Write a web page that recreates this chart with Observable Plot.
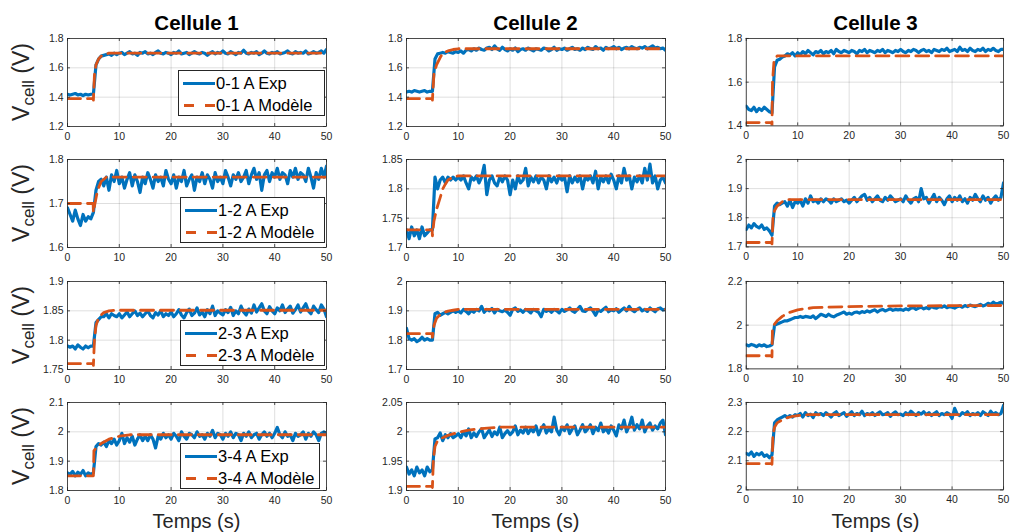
<!DOCTYPE html>
<html><head><meta charset="utf-8">
<script src="https://cdn.jsdelivr.net/npm/d3@7"></script>
<script src="https://cdn.jsdelivr.net/npm/@observablehq/plot@0.6"></script>
<style>
body{margin:0;background:#fff;}
#root{position:relative;width:1011px;height:532px;overflow:hidden;background:#fff;font-family:"Liberation Sans",Arial,Helvetica,sans-serif;}
.panel{position:absolute;}
.panel svg{overflow:visible;}
.legend{position:absolute;background:#fff;border:1px solid #262626;box-sizing:border-box;color:#000;font-size:16.5px;}
.legend .row{position:absolute;left:0;right:0;height:20px;}
.legend .row svg{position:absolute;left:3px;top:0;}
.legend .row span{position:absolute;left:37px;top:0;line-height:20px;white-space:nowrap;}
#overlay{position:absolute;left:0;top:0;pointer-events:none;}
</style></head><body><div id="root"></div>
<script>
// ---------- data ----------
const cellTitles = ["Cellule 1", "Cellule 2", "Cellule 3"];
const currents = ["0-1 A", "1-2 A", "2-3 A", "3-4 A"];
const xTicks = [0, 10, 20, 30, 40, 50];
const xLabel = "Temps (s)";

const yDomains = [
  [[1.2, 1.8], [1.2, 1.8], [1.4, 1.8]],
  [[1.6, 1.8], [1.7, 1.85], [1.7, 2.0]],
  [[1.75, 1.9], [1.7, 2.0], [1.8, 2.2]],
  [[1.8, 2.1], [1.9, 2.05], [2.0, 2.3]]
];
const yTicks = [
  [[1.2, 1.4, 1.6, 1.8], [1.2, 1.4, 1.6, 1.8], [1.4, 1.6, 1.8]],
  [[1.6, 1.7, 1.8], [1.7, 1.75, 1.8, 1.85], [1.7, 1.8, 1.9, 2]],
  [[1.75, 1.8, 1.85, 1.9], [1.7, 1.8, 1.9, 2], [1.8, 2, 2.2]],
  [[1.8, 1.9, 2, 2.1], [1.9, 1.95, 2, 2.05], [2, 2.1, 2.2, 2.3]]
];

const tExp = [0,0.5,1,1.5,2,2.5,3,3.5,4,4.5,5,5.5,6,6.5,7,7.5,8,8.5,9,9.5,10,10.5,11,11.5,12,12.5,13,13.5,14,14.5,15,15.5,16,16.5,17,17.5,18,18.5,19,19.5,20,20.5,21,21.5,22,22.5,23,23.5,24,24.5,25,25.5,26,26.5,27,27.5,28,28.5,29,29.5,30,30.5,31,31.5,32,32.5,33,33.5,34,34.5,35,35.5,36,36.5,37,37.5,38,38.5,39,39.5,40,40.5,41,41.5,42,42.5,43,43.5,44,44.5,45,45.5,46,46.5,47,47.5,48,48.5,49,49.5,50];

const exp11 = [1.42,1.415,1.42,1.425,1.415,1.42,1.41,1.42,1.415,1.42,
 1.42,1.62,1.66,1.68,1.685,1.69,1.695,1.685,1.70,1.69,
 1.70,1.705,1.69,1.70,1.71,1.695,1.70,1.685,1.705,1.70,
 1.71,1.695,1.70,1.69,1.705,1.715,1.70,1.695,1.705,1.70,
 1.69,1.705,1.70,1.715,1.695,1.70,1.705,1.69,1.70,1.71,
 1.70,1.695,1.705,1.70,1.685,1.70,1.71,1.695,1.705,1.70,
 1.715,1.70,1.695,1.71,1.70,1.69,1.705,1.70,1.72,1.70,
 1.695,1.705,1.70,1.71,1.69,1.70,1.715,1.70,1.695,1.705,
 1.70,1.71,1.695,1.70,1.705,1.715,1.70,1.695,1.71,1.70,
 1.705,1.70,1.715,1.695,1.70,1.71,1.70,1.705,1.715,1.70,
 1.725];
const exp12 = [1.435,1.44,1.435,1.445,1.44,1.435,1.44,1.445,1.435,1.44,
 1.44,1.66,1.695,1.70,1.705,1.70,1.71,1.705,1.70,1.71,
 1.705,1.715,1.70,1.72,1.725,1.715,1.73,1.72,1.735,1.725,
 1.72,1.735,1.74,1.725,1.75,1.73,1.72,1.74,1.725,1.715,
 1.73,1.72,1.735,1.71,1.725,1.73,1.72,1.735,1.725,1.715,
 1.73,1.725,1.72,1.735,1.73,1.715,1.725,1.74,1.72,1.73,
 1.725,1.735,1.72,1.73,1.74,1.725,1.73,1.72,1.735,1.725,
 1.74,1.73,1.725,1.745,1.73,1.735,1.72,1.74,1.73,1.735,
 1.745,1.73,1.74,1.725,1.735,1.74,1.73,1.745,1.735,1.73,
 1.74,1.735,1.745,1.73,1.74,1.75,1.735,1.74,1.73,1.735,
 1.72];
const exp13 = [1.49,1.475,1.47,1.485,1.465,1.48,1.47,1.485,1.475,1.465,
 1.46,1.67,1.70,1.705,1.715,1.72,1.73,1.725,1.735,1.72,
 1.735,1.725,1.74,1.73,1.745,1.735,1.725,1.74,1.735,1.745,
 1.73,1.74,1.735,1.745,1.73,1.75,1.74,1.735,1.745,1.74,
 1.735,1.745,1.74,1.73,1.745,1.74,1.75,1.735,1.745,1.74,
 1.735,1.745,1.74,1.75,1.735,1.745,1.74,1.735,1.745,1.74,
 1.75,1.74,1.735,1.745,1.74,1.75,1.745,1.735,1.745,1.75,
 1.74,1.745,1.735,1.75,1.745,1.74,1.75,1.745,1.755,1.74,
 1.745,1.75,1.74,1.76,1.745,1.75,1.74,1.755,1.745,1.74,
 1.75,1.745,1.755,1.74,1.75,1.745,1.755,1.745,1.74,1.75,
 1.75];
const exp21 = [1.69,1.675,1.66,1.685,1.665,1.65,1.675,1.66,1.67,1.665,
 1.68,1.73,1.75,1.755,1.74,1.76,1.73,1.765,1.75,1.775,
 1.745,1.76,1.735,1.755,1.77,1.74,1.765,1.75,1.725,1.76,
 1.745,1.77,1.755,1.735,1.765,1.75,1.76,1.74,1.775,1.755,
 1.745,1.765,1.735,1.76,1.75,1.775,1.74,1.755,1.765,1.73,
 1.76,1.75,1.77,1.745,1.765,1.755,1.735,1.77,1.75,1.76,
 1.745,1.775,1.76,1.74,1.765,1.755,1.77,1.75,1.76,1.775,
 1.745,1.765,1.78,1.755,1.77,1.73,1.765,1.775,1.75,1.77,
 1.76,1.78,1.755,1.77,1.765,1.745,1.775,1.76,1.78,1.755,
 1.77,1.765,1.75,1.78,1.76,1.735,1.77,1.755,1.78,1.76,
 1.785];
const exp22 = [1.73,1.715,1.735,1.72,1.73,1.715,1.735,1.72,1.725,1.73,
 1.73,1.82,1.80,1.815,1.82,1.81,1.82,1.815,1.82,1.815,
 1.82,1.815,1.822,1.81,1.80,1.82,1.815,1.822,1.81,1.82,
 1.84,1.79,1.815,1.822,1.81,1.805,1.82,1.812,1.822,1.815,
 1.79,1.815,1.80,1.822,1.81,1.815,1.835,1.805,1.82,1.812,
 1.822,1.81,1.82,1.815,1.80,1.822,1.812,1.82,1.81,1.822,
 1.815,1.82,1.795,1.822,1.81,1.82,1.812,1.822,1.80,1.82,
 1.815,1.822,1.81,1.83,1.80,1.82,1.812,1.822,1.81,1.825,
 1.815,1.80,1.822,1.81,1.835,1.815,1.822,1.80,1.82,1.812,
 1.822,1.81,1.835,1.815,1.842,1.81,1.822,1.80,1.815,1.82,
 1.81];
const exp23 = [1.76,1.775,1.765,1.78,1.77,1.765,1.775,1.76,1.765,1.755,
 1.74,1.84,1.85,1.845,1.85,1.855,1.84,1.86,1.835,1.855,
 1.85,1.86,1.84,1.865,1.85,1.875,1.855,1.86,1.85,1.865,
 1.855,1.865,1.86,1.85,1.865,1.855,1.86,1.865,1.855,1.86,
 1.85,1.86,1.87,1.855,1.865,1.875,1.88,1.86,1.87,1.855,
 1.865,1.875,1.86,1.855,1.87,1.86,1.875,1.865,1.855,1.86,
 1.865,1.855,1.875,1.86,1.85,1.865,1.87,1.855,1.90,1.865,
 1.87,1.85,1.865,1.88,1.855,1.87,1.86,1.845,1.865,1.875,
 1.855,1.87,1.86,1.875,1.855,1.865,1.85,1.87,1.86,1.88,
 1.865,1.855,1.875,1.86,1.87,1.85,1.865,1.875,1.86,1.87,
 1.92];
const exp31 = [1.79,1.788,1.79,1.785,1.792,1.788,1.785,1.79,1.787,1.79,
 1.79,1.83,1.835,1.84,1.84,1.845,1.838,1.845,1.842,1.84,
 1.845,1.838,1.843,1.848,1.84,1.845,1.85,1.842,1.846,1.84,
 1.845,1.85,1.842,1.838,1.847,1.843,1.85,1.84,1.845,1.842,
 1.848,1.84,1.845,1.852,1.843,1.838,1.847,1.853,1.842,1.846,
 1.855,1.843,1.848,1.84,1.852,1.845,1.858,1.842,1.85,1.846,
 1.843,1.852,1.847,1.856,1.842,1.85,1.845,1.858,1.848,1.843,
 1.853,1.846,1.86,1.848,1.855,1.862,1.85,1.845,1.857,1.85,
 1.845,1.855,1.85,1.86,1.847,1.853,1.858,1.846,1.852,1.86,
 1.848,1.855,1.862,1.85,1.845,1.858,1.852,1.847,1.86,1.853,
 1.84];
const exp32 = [1.84,1.805,1.80,1.805,1.795,1.80,1.81,1.80,1.805,1.80,
 1.80,1.89,1.895,1.885,1.89,1.895,1.89,1.895,1.90,1.895,
 1.90,1.893,1.905,1.898,1.89,1.902,1.895,1.905,1.90,1.915,
 1.895,1.905,1.90,1.908,1.893,1.905,1.90,1.897,1.903,1.895,
 1.885,1.905,1.91,1.898,1.903,1.895,1.905,1.90,1.893,1.905,
 1.90,1.895,1.88,1.905,1.898,1.903,1.895,1.905,1.90,1.893,
 1.905,1.898,1.903,1.91,1.90,1.895,1.905,1.915,1.90,1.898,
 1.905,1.91,1.90,1.885,1.903,1.898,1.905,1.912,1.897,1.903,
 1.90,1.907,1.895,1.903,1.91,1.90,1.915,1.903,1.897,1.905,
 1.91,1.90,1.905,1.898,1.91,1.903,1.897,1.907,1.91,1.903,
 1.905];
const exp33 = [1.91,1.905,1.912,1.908,1.902,1.91,1.905,1.91,1.902,1.905,
 1.91,2.0,2.005,2.01,2.015,2.02,2.02,2.025,2.03,2.035,
 2.035,2.04,2.035,2.04,2.038,2.035,2.042,2.03,2.04,2.05,
 2.045,2.04,2.05,2.042,2.038,2.045,2.05,2.055,2.06,2.05,
 2.055,2.05,2.058,2.06,2.055,2.062,2.058,2.065,2.06,2.066,
 2.07,2.06,2.068,2.072,2.065,2.07,2.075,2.068,2.072,2.07,
 2.072,2.068,2.075,2.07,2.078,2.08,2.072,2.078,2.082,2.075,
 2.08,2.075,2.085,2.08,2.078,2.085,2.082,2.088,2.08,2.085,
 2.082,2.078,2.085,2.088,2.082,2.09,2.085,2.092,2.088,2.085,
 2.09,2.095,2.088,2.092,2.10,2.095,2.105,2.098,2.10,2.105,
 2.10];
const exp41 = [1.86,1.855,1.865,1.85,1.862,1.855,1.868,1.85,1.86,1.855,
 1.86,1.95,1.96,1.955,1.965,1.95,1.97,1.96,1.975,1.955,
 1.97,1.995,1.96,1.98,1.965,1.985,1.955,1.975,1.99,1.97,
 1.985,1.97,1.99,1.975,1.945,1.985,1.975,1.995,1.98,1.99,
 1.975,1.995,1.985,1.97,2.0,1.985,1.975,1.995,1.99,1.98,
 2.0,1.985,1.99,1.975,1.995,1.985,2.005,1.98,1.995,1.99,
 1.975,1.995,1.985,2.0,1.98,1.995,1.99,1.97,1.995,1.985,
 2.0,1.98,1.99,1.995,1.975,1.99,2.0,1.985,1.995,1.98,
 1.995,2.015,1.99,1.98,2.0,1.985,1.99,1.97,1.995,1.985,
 1.99,2.0,1.975,1.995,1.985,2.0,1.99,1.97,1.995,2.0,
 1.995];
const exp42 = [1.94,1.928,1.935,1.925,1.94,1.93,1.935,1.925,1.94,1.932,
 1.935,1.988,1.99,1.998,1.985,1.995,1.99,1.997,1.99,1.993,
 1.997,1.99,2.0,1.993,2.005,1.99,1.998,1.992,2.0,2.005,
 1.99,1.997,2.003,1.992,2.0,1.995,2.008,1.99,1.997,2.002,
 1.995,2.0,2.01,1.995,2.003,1.998,2.008,1.997,2.005,2.0,
 2.01,1.995,2.005,2.012,1.998,2.005,2.0,2.025,2.003,1.995,
 2.008,2.002,2.012,1.997,2.005,2.01,1.995,2.003,2.012,2.0,
 2.005,2.012,1.997,2.008,2.002,2.015,2.0,2.006,1.998,2.01,
 2.003,1.993,2.012,2.005,2.02,2.0,2.01,2.025,2.003,2.012,
 2.005,2.02,2.0,2.01,2.015,2.003,2.01,2.005,2.015,2.02,
 1.995];
const exp43 = [2.125,2.12,2.13,2.115,2.125,2.12,2.128,2.115,2.12,2.11,
 2.12,2.23,2.24,2.245,2.25,2.255,2.248,2.255,2.25,2.258,
 2.255,2.262,2.25,2.265,2.255,2.26,2.248,2.265,2.258,2.262,
 2.255,2.265,2.258,2.25,2.262,2.268,2.255,2.26,2.265,2.252,
 2.26,2.268,2.255,2.262,2.258,2.27,2.255,2.262,2.258,2.265,
 2.255,2.262,2.268,2.258,2.26,2.265,2.252,2.262,2.268,2.258,
 2.26,2.255,2.265,2.258,2.27,2.262,2.255,2.265,2.26,2.268,
 2.258,2.265,2.255,2.262,2.268,2.255,2.262,2.258,2.265,2.26,
 2.245,2.28,2.26,2.255,2.265,2.26,2.268,2.255,2.262,2.258,
 2.265,2.255,2.268,2.262,2.255,2.27,2.26,2.265,2.258,2.262,
 2.29];

const modT11 = [0,4.95,5.0,5.2,5.5,6,6.5,7,7.5,8,50];
const modV11 = [1.39,1.39,1.38,1.55,1.62,1.66,1.68,1.69,1.695,1.70,1.70];
const modT12 = [0,4.95,5.0,5.3,5.8,6.5,7,8,9,10,50];
const modV12 = [1.39,1.39,1.38,1.56,1.62,1.67,1.70,1.715,1.725,1.73,1.73];
const modT13 = [0,4.95,5.0,5.1,5.4,6,50];
const modV13 = [1.415,1.415,1.40,1.60,1.70,1.72,1.72];
const modT21 = [0,4.95,5.0,5.3,5.8,6.5,7.5,50];
const modV21 = [1.70,1.70,1.68,1.70,1.73,1.75,1.76,1.76];
const modT22 = [0,4.95,5.0,5.3,5.8,6.5,7,7.5,8,9,10,50];
const modV22 = [1.73,1.73,1.72,1.745,1.765,1.785,1.80,1.808,1.815,1.82,1.822,1.822];
const modT23 = [0,4.95,5.0,5.2,5.5,6,7,8,50];
const modV23 = [1.715,1.715,1.71,1.80,1.825,1.84,1.855,1.862,1.862];
const modT31 = [0,4.95,5.0,5.2,5.5,6,6.5,7,8,9,50];
const modV31 = [1.76,1.76,1.757,1.80,1.825,1.838,1.843,1.847,1.85,1.851,1.851];
const modT32 = [0,4.95,5.0,5.3,5.8,6.5,7,8,9,10,50];
const modV32 = [1.822,1.822,1.81,1.85,1.875,1.887,1.893,1.899,1.902,1.905,1.905];
const modT33 = [0,4.95,5.0,5.1,5.5,6,7,8,10,13,20,30,50];
const modV33 = [1.86,1.86,1.855,1.99,2.005,2.02,2.04,2.055,2.07,2.08,2.085,2.088,2.09];
const modT41 = [0,4.95,5.0,5.1,5.5,6.5,8,10,12,50];
const modV41 = [1.85,1.85,1.85,1.935,1.945,1.96,1.975,1.985,1.99,1.99];
const modT42 = [0,4.95,5.0,5.2,5.5,6,7,8,10,12,15,18,50];
const modV42 = [1.907,1.907,1.905,1.955,1.975,1.985,1.99,1.994,1.999,2.003,2.006,2.008,2.008];
const modT43 = [0,4.95,5.0,5.2,5.5,6,7,8,9,10,12,50];
const modV43 = [2.09,2.09,2.088,2.19,2.215,2.23,2.24,2.248,2.252,2.255,2.258,2.258];

// ---------- layout ----------
const expGrid = [[exp11, exp12, exp13], [exp21, exp22, exp23], [exp31, exp32, exp33], [exp41, exp42, exp43]];
const modGrid = [
  [[modT11, modV11], [modT12, modV12], [modT13, modV13]],
  [[modT21, modV21], [modT22, modV22], [modT23, modV23]],
  [[modT31, modV31], [modT32, modV32], [modT33, modV33]],
  [[modT41, modV41], [modT42, modV42], [modT43, modV43]]
];
const colLeft = [67, 406, 746];
const rowTop = [38, 159, 281, 402];
const plotW = 259, plotH = 88;
const mL = 40, mR = 8, mT = 6, mB = 22;
const FONT = '"Liberation Sans", Arial, Helvetica, sans-serif';
const BLUE = "#0072BD", RED = "#D95319", AX = "#262626";
const fmt = d => String(d);

const root = document.getElementById("root");

for (let r = 0; r < 4; r++) {
  for (let c = 0; c < 3; c++) {
    const ex = tExp.map((t, i) => ({t, v: expGrid[r][c][i]}));
    const [mt, mv] = modGrid[r][c];
    const mo = mt.map((t, i) => ({t, v: mv[i]}));
    const yt = yTicks[r][c];
    const svg = Plot.plot({
      width: plotW + mL + mR,
      height: plotH + mT + mB,
      marginLeft: mL, marginRight: mR, marginTop: mT, marginBottom: mB,
      style: {fontFamily: FONT, fontSize: "10.5px", color: AX, background: "transparent", overflow: "visible"},
      x: {domain: [0, 50]},
      y: {domain: yDomains[r][c]},
      marks: [
        Plot.gridX(xTicks, {stroke: "#000", strokeOpacity: 0.13, strokeWidth: 1}),
        Plot.gridY(yt, {stroke: "#000", strokeOpacity: 0.13, strokeWidth: 1}),
        Plot.line(ex, {x: "t", y: "v", stroke: BLUE, strokeWidth: 3.2, clip: true}),
        Plot.line(mo, {x: "t", y: "v", stroke: RED, strokeWidth: 2.8, strokeDasharray: "13,7", clip: true}),
        Plot.axisX(xTicks, {anchor: "bottom", tickSize: 0, tickPadding: 6, label: null, tickFormat: fmt, fill: AX}),
        Plot.axisY(yt, {anchor: "left", tickSize: 0, tickPadding: 4, label: null, tickFormat: fmt, fill: AX}),
        Plot.tickX(xTicks, {x: d => d, stroke: AX, strokeWidth: 0.8, insetTop: plotH - 3}),
        Plot.tickX(xTicks, {x: d => d, stroke: AX, strokeWidth: 0.8, insetBottom: plotH - 3}),
        Plot.tickY(yt, {y: d => d, stroke: AX, strokeWidth: 0.8, insetLeft: plotW - 3}),
        Plot.tickY(yt, {y: d => d, stroke: AX, strokeWidth: 0.8, insetRight: plotW - 3}),
        Plot.frame({stroke: AX, strokeWidth: 0.8})
      ]
    });
    const div = document.createElement("div");
    div.className = "panel";
    div.style.left = (colLeft[c] - mL) + "px";
    div.style.top = (rowTop[r] - mT) + "px";
    div.appendChild(svg);
    root.appendChild(div);
  }
}

// legends (column 1 only)
const legLeft = [178, 180, 180, 180];
const legTop = [70, 197, 320, 443];
const legWidth = [147, 145, 145, 140];
for (let r = 0; r < 4; r++) {
  const lg = document.createElement("div");
  lg.className = "legend";
  lg.style.left = legLeft[r] + "px";
  lg.style.top = legTop[r] + "px";
  lg.style.width = legWidth[r] + "px";
  lg.style.height = "46px";
  lg.innerHTML =
    `<div class="row" style="top:2px"><svg width="34" height="20"><line x1="1" x2="33" y1="10.5" y2="10.5" stroke="${BLUE}" stroke-width="3"/></svg><span>${currents[r]} Exp</span></div>` +
    `<div class="row" style="top:24px"><svg width="34" height="20"><line x1="2" x2="33" y1="10.5" y2="10.5" stroke="${RED}" stroke-width="2.8" stroke-dasharray="10,11"/></svg><span>${currents[r]} Modèle</span></div>`;
  root.appendChild(lg);
}

// overlay text: titles, axis labels
const ns = "http://www.w3.org/2000/svg";
const ov = document.createElementNS(ns, "svg");
ov.setAttribute("id", "overlay");
ov.setAttribute("width", 1011);
ov.setAttribute("height", 532);
let html = "";
for (let c = 0; c < 3; c++) {
  const cx = colLeft[c] + plotW / 2;
  html += `<text x="${cx}" y="30" text-anchor="middle" font-family='${FONT}' font-weight="bold" font-size="20.5" fill="#000">${cellTitles[c]}</text>`;
  html += `<text x="${cx}" y="528" text-anchor="middle" font-family='${FONT}' font-size="20" fill="${AX}">${xLabel}</text>`;
}
for (let r = 0; r < 4; r++) {
  const cy = rowTop[r] + plotH / 2;
  html += `<text transform="translate(29,${cy}) rotate(-90)" text-anchor="middle" font-family='${FONT}' font-size="23" fill="${AX}">V<tspan font-size="17" dy="5">cell</tspan><tspan dy="-5"> (V)</tspan></text>`;
}
ov.innerHTML = html;
root.appendChild(ov);
</script></body></html>
